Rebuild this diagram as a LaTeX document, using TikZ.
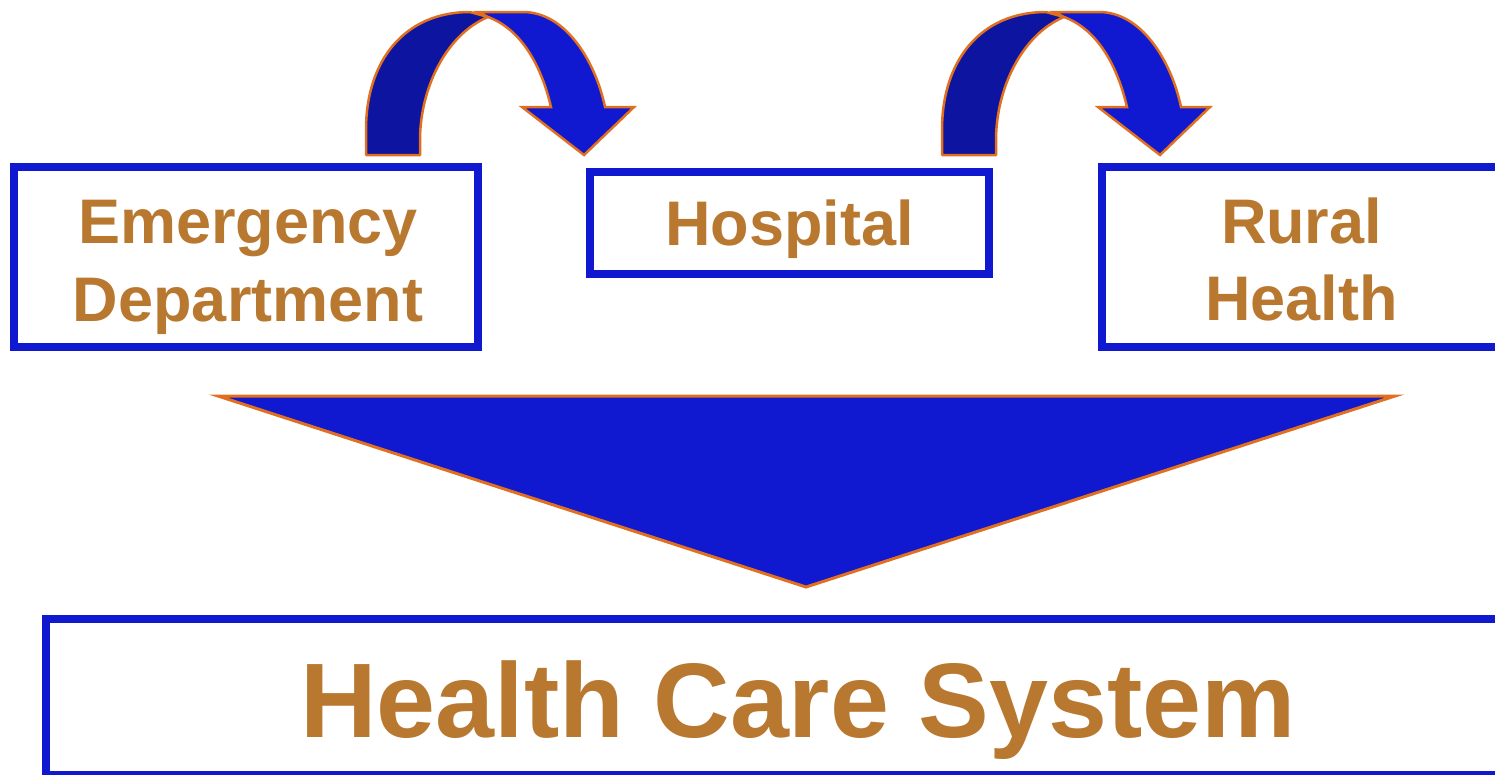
\documentclass[tikz,border=0pt]{standalone}
\usepackage{fontspec}
\setmainfont{Liberation Sans}
\definecolor{boxblue}{RGB}{16,24,208}
\definecolor{darkblue}{RGB}{12,20,160}
\definecolor{edgeorange}{RGB}{224,112,32}
\definecolor{txtbrown}{RGB}{184,120,48}
\tikzset{
  framebox/.style={draw=boxblue, line width=8pt, fill=white, rectangle, inner sep=0pt},
  label text/.style={text=txtbrown, font=\bfseries\fontsize{63}{75}\selectfont, anchor=base, inner sep=0pt},
  big text/.style={label text, font=\bfseries\fontsize{106}{130}\selectfont},
  darkpart/.style={fill=darkblue, draw=edgeorange, line width=2.5pt, line join=round},
  lightpart/.style={fill=boxblue, draw=edgeorange, line width=2.5pt, line join=miter},
  funnel/.style={fill=boxblue, draw=edgeorange, line width=3pt, line join=miter}
}
\begin{document}
\begin{tikzpicture}[x=1pt,y=-1pt]
\useasboundingbox (0,0) rectangle (1495,774);
\clip (0,0) rectangle (1495,774);
% boxes
\node[framebox, minimum width=464pt, minimum height=180pt] (ed) at (246,257) {};
\node[framebox, minimum width=399pt, minimum height=102pt] (hosp) at (789.5,223) {};
\node[framebox, minimum width=404pt, minimum height=180pt] (rural) at (1304,257) {};
\node[framebox, minimum width=1502pt, minimum height=156pt] (hcs) at (797,697) {};
% texts
\node[label text] (ed1) at (248,243) {Emergency};
\node[label text] (ed2) at (248,321) {Department};
\node[label text] (hosp1) at (789.5,245) {Hospital};
\node[label text] (rural1) at (1301.5,243) {Rural};
\node[label text] (rural2) at (1301.5,320) {Health};
\node[big text] (hcs1) at (798,737) {Health Care System};
% funnel arrow
\draw[funnel] (218,396) -- (1395,396) -- (806,587) -- cycle;
% curved arrows
\foreach \dx/\nm in {0/a, 576/b}{
  \begin{scope}[xshift=\dx pt]
    \draw[darkpart] (366,155) -- (366,130) .. controls (366,60) and (405,12) .. (470,12)
      -- (488,17) .. controls (445,35) and (420,90) .. (420,140) -- (420,155) -- cycle;
    \draw[lightpart] (478,12) -- (523,12) .. controls (565,12) and (595,60) .. (605,107)
      -- (634,107) -- (584,155) -- (522,107) -- (551,107)
      .. controls (540,60) and (518,28) .. (488,17) -- cycle;
    \coordinate (tip\nm) at (584,155);
  \end{scope}
}
\end{tikzpicture}
\end{document}
